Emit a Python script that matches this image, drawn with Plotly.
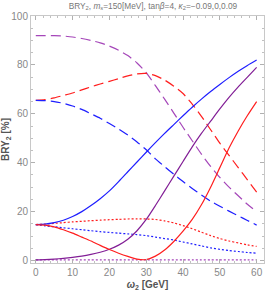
import plotly.graph_objects as go

x = [0, 2.5, 5, 7.5, 10, 12.5, 15, 17.5, 20, 22.5, 25, 27.5, 30,
     32.5, 35, 37.5, 40, 42.5, 45, 47.5, 50, 52.5, 55, 57.5, 60]

# solid
blue_solid   = [14.7, 14.9, 15.5, 16.5, 18.0, 20.0, 22.5, 25.3, 28.5, 32.3, 36.3, 40.3, 44.3,
                48.2, 52.0, 55.6, 59.2, 62.7, 66.0, 69.1, 72.0, 74.8, 77.4, 79.8, 82.0]
purple_solid = [0.3, 0.4, 0.6, 0.9, 1.3, 1.8, 2.5, 3.4, 4.6, 6.3, 8.7, 12.2, 16.8,
                22.5, 28.5, 34.5, 40.5, 46.5, 52.0, 57.0, 62.0, 66.7, 71.0, 75.0, 79.0]
red_solid    = [14.7, 14.5, 13.8, 12.6, 11.2, 9.6, 8.0, 6.2, 4.5, 3.0, 1.7, 0.6, 0.4,
                1.8, 4.3, 7.8, 12.0, 16.8, 22.8, 30.0, 38.0, 46.0, 53.0, 59.3, 65.0]

# dashed
purple_dash  = [92.0, 92.0, 92.0, 91.8, 91.4, 90.8, 90.0, 89.0, 87.7, 86.0, 83.8, 80.8, 76.8,
                71.5, 66.0, 60.3, 54.5, 49.0, 43.5, 38.5, 34.0, 30.0, 26.5, 23.0, 20.0]
red_dash     = [65.5, 65.8, 66.5, 67.5, 68.5, 69.8, 71.0, 72.2, 73.3, 74.4, 75.5, 76.3, 76.5,
                75.6, 73.8, 71.3, 68.3, 64.0, 59.0, 53.5, 48.0, 43.0, 38.0, 33.0, 28.0]
blue_dash    = [65.5, 65.4, 65.0, 64.3, 63.2, 61.8, 60.0, 58.2, 56.0, 53.8, 51.3, 48.5, 45.3,
                41.6, 38.4, 35.3, 32.3, 29.5, 26.8, 24.3, 22.2, 20.2, 18.3, 16.4, 14.5]

# dotted
red_dot      = [14.7, 14.95, 15.2, 15.5, 15.8, 16.05, 16.3, 16.5, 16.7, 16.85, 17.0, 17.05, 17.0,
                16.8, 16.2, 15.4, 14.3, 13.0, 11.6, 10.2, 9.0, 8.0, 7.2, 6.4, 5.8]
blue_dot     = [14.7, 14.2, 13.8, 13.4, 13.0, 12.6, 12.2, 11.8, 11.5, 11.2, 10.9, 10.6, 10.2,
                9.6, 9.0, 8.4, 7.6, 6.8, 6.0, 5.2, 4.6, 4.1, 3.7, 3.3, 3.0]
purple_dot   = [0.3] * 25

BLUE = "rgb(30,30,255)"
RED = "rgb(255,30,30)"
PURPLE = "rgb(130,30,150)"
PURPLE_L = "rgb(165,70,185)"

DASH = "10px,5px"
DOT = "2px,2px"

series = [
    (purple_dash, PURPLE_L, DASH),
    (red_dash, RED, DASH),
    (blue_dash, BLUE, DASH),
    (red_dot, RED, DOT),
    (blue_dot, BLUE, DOT),
    (purple_dot, PURPLE_L, DOT),
    (blue_solid, BLUE, "solid"),
    (purple_solid, PURPLE, "solid"),
    (red_solid, RED, "solid"),
]

fig = go.Figure()
for ys, col, dash in series:
    fig.add_trace(go.Scatter(
        x=x, y=ys, mode="lines",
        line=dict(color=col, width=1.2, dash=dash, shape="spline", smoothing=0.6),
        showlegend=False, hoverinfo="skip"))

FONT = "Liberation Sans, Arial, sans-serif"
axis_common = dict(
    showgrid=False, zeroline=False, showline=True, linecolor="#c8c8c8", linewidth=1,
    mirror="allticks", ticks="inside", ticklen=4, tickcolor="#b0b0b0", tickwidth=1,
    automargin=False,
    tickfont=dict(family=FONT, size=10, color="#888888"),
)

fig.update_xaxes(
    range=[-1.3, 62], tickvals=[0, 10, 20, 30, 40, 50, 60],
    minor=dict(dtick=2, tick0=0, ticklen=2, tickcolor="#c0c0c0", ticks="inside"),
    title=dict(text="<b><i>ω</i><sub>2</sub> [GeV]</b>",
               font=dict(family=FONT, size=10, color="#555555")),
    **axis_common)
fig.update_yaxes(
    range=[-1, 100], tickvals=[0, 20, 40, 60, 80, 100],
    minor=dict(dtick=5, tick0=0, ticklen=2, tickcolor="#c0c0c0", ticks="inside"),
    title=dict(text="<b>BRY<sub>2</sub> [%]</b>",
               font=dict(family=FONT, size=10, color="#555555")),
    **axis_common)

fig.update_layout(
    width=266, height=291,
    margin=dict(l=31, r=2, t=16, b=28, autoexpand=False),
    paper_bgcolor="white", plot_bgcolor="white",
    title=dict(
        text="BRY<sub>2</sub>, <i>m<sub>s</sub></i>=150[MeV], tan<i>β</i>=4, <i>κ</i><sub>2</sub>=−0.09,0,0.09",
        x=0.575, xanchor="center", y=0.99, yanchor="top",
        font=dict(family=FONT, size=8.3, color="#777777")),
)

fig.write_html("out.html", config={"displayModeBar": False},
               post_script="document.body.style.margin='0';document.body.style.overflow='hidden';")
